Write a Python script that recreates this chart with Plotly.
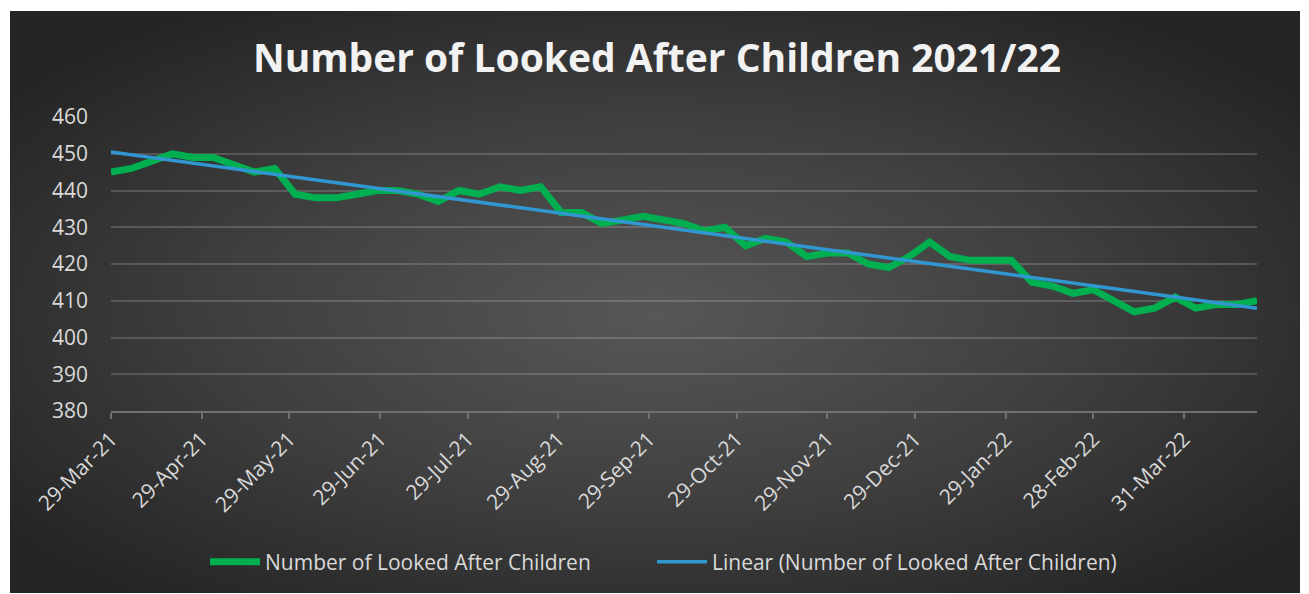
import base64
import numpy as np
import pandas as pd
import plotly.graph_objects as go

# ---- data ----
start_date = "2021-03-29"
n_weeks = 57
looked_after = [445, 446, 448, 450, 449, 449, 447, 445, 446, 439,
                438, 438, 439, 440, 440, 439, 437, 440, 439, 441,
                440, 441, 434, 434, 431, 432, 433, 432, 431, 429,
                430, 425, 427, 426, 422, 423, 423, 420, 419, 422,
                426, 422, 421, 421, 421, 415, 414, 412, 413, 410,
                407, 408, 411, 408, 409, 409, 410]
tick_dates = ["2021-03-29", "2021-04-29", "2021-05-29", "2021-06-29", "2021-07-29",
              "2021-08-29", "2021-09-29", "2021-10-29", "2021-11-29", "2021-12-29",
              "2022-01-29", "2022-02-28", "2022-03-31"]
tick_labels = ["29-Mar-21", "29-Apr-21", "29-May-21", "29-Jun-21", "29-Jul-21",
               "29-Aug-21", "29-Sep-21", "29-Oct-21", "29-Nov-21", "29-Dec-21",
               "29-Jan-22", "28-Feb-22", "31-Mar-22"]
series_name = "Number of Looked After Children"
title_text = "Number of Looked After Children 2021/22"

dates = pd.date_range(start_date, periods=n_weeks, freq="7D")

# Excel-style linear trendline (least squares on date serials)
days = (dates - dates[0]).days.values.astype(float)
slope, intercept = np.polyfit(days, np.array(looked_after, dtype=float), 1)
trend = intercept + slope * days

W, H = 1309, 594
L, R, T, B = 111, 52, 117, 183
pw, ph = W - L - R, H - T - B

font_family = "Open Sans, Noto Sans, sans-serif"
txt_col = "#d9d9d9"
fs = 21

fig = go.Figure()
fig.add_trace(go.Scatter(x=dates, y=looked_after, mode="lines", name=series_name,
                         line=dict(color="#00b050", width=7), legend="legend"))
fig.add_trace(go.Scatter(x=[dates[0], dates[-1]], y=[trend[0], trend[-1]], mode="lines",
                         name="Linear (" + series_name + ")",
                         line=dict(color="#3197d0", width=3.5), legend="legend2"))

# radial gradient background via SVG image
bx0, by0, bx1, by1 = 10, 11, 1300, 593
svg = ("<svg xmlns='http://www.w3.org/2000/svg' width='%d' height='%d' viewBox='0 0 %d %d' "
       "preserveAspectRatio='none'><defs><radialGradient id='g' cx='0.5' cy='0.52' r='0.62'>"
       "<stop offset='0' stop-color='#575757'/><stop offset='0.55' stop-color='#3e3e3e'/>"
       "<stop offset='1' stop-color='#252525'/></radialGradient></defs>"
       "<rect width='%d' height='%d' fill='url(#g)'/></svg>") % (
    bx1 - bx0, by1 - by0, bx1 - bx0, by1 - by0, bx1 - bx0, by1 - by0)
src = "data:image/svg+xml;base64," + base64.b64encode(svg.encode()).decode()
fig.add_layout_image(dict(source=src, xref="paper", yref="paper",
                          x=(bx0 - L) / pw, y=(H - B - by0) / ph,
                          sizex=(bx1 - bx0) / pw, sizey=(by1 - by0) / ph,
                          xanchor="left", yanchor="top", sizing="stretch", layer="below"))

leg_common = dict(orientation="h", yanchor="middle", y=(H - B - 562) / ph,
                  xanchor="left", font=dict(size=fs, color=txt_col),
                  bgcolor="rgba(0,0,0,0)", itemwidth=50)

fig.update_layout(
    width=W, height=H,
    margin=dict(l=L, r=R, t=T, b=B, pad=0),
    paper_bgcolor="white",
    plot_bgcolor="rgba(0,0,0,0)",
    font=dict(family=font_family, color=txt_col, size=fs),
    title=dict(text="<b>" + title_text + "</b>", x=657 / W, xanchor="center",
               y=1 - 58 / H, yanchor="middle",
               font=dict(family=font_family, size=39, color="#f2f2f2")),
    showlegend=True,
    legend=dict(x=(205 - L) / pw, **leg_common),
    legend2=dict(x=(652 - L) / pw, **leg_common),
    xaxis=dict(type="date", range=[dates[0], dates[-1]],
               tickmode="array", tickvals=tick_dates, ticktext=tick_labels,
               tickangle=-45, showgrid=False, zeroline=False,
               showline=True, linecolor="#707070", linewidth=1.5,
               ticks="outside", ticklen=6, tickcolor="#707070", tickwidth=1.5,
               tickfont=dict(size=fs, color=txt_col)),
    yaxis=dict(range=[380, 460], dtick=10, tick0=380, showgrid=True,
               gridcolor="rgba(255,255,255,0.17)", gridwidth=1.5,
               zeroline=False, showline=False, ticks="",
               tickfont=dict(size=fs, color=txt_col), ticklabelstandoff=22),
)

fig.write_html("out.html")
